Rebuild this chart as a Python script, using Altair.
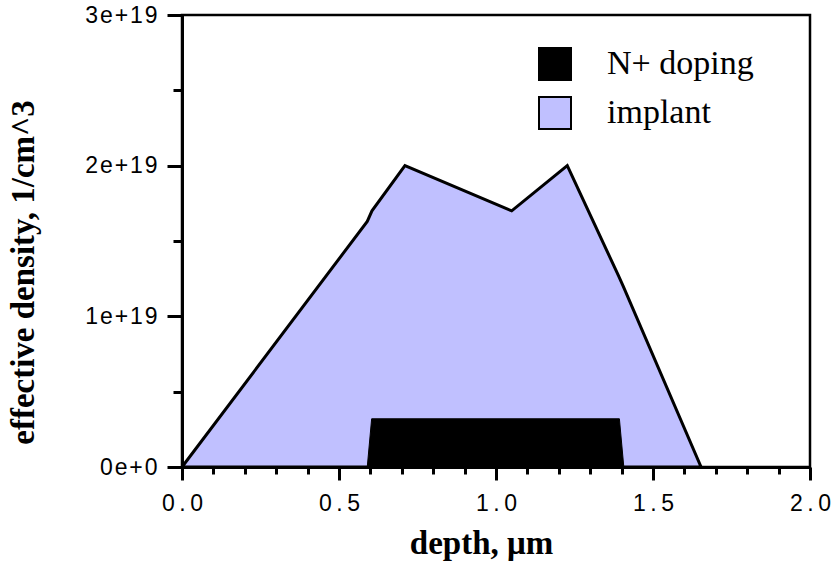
import altair as alt
import pandas as pd

# Implanted profile (depth in µm, density in 1/cm^3)
implant_depth = [0.0, 0.59, 0.605, 0.71, 1.05, 1.227, 1.39, 1.405, 1.653]
implant_density = [0.0, 1.63e19, 1.70e19, 2.0e19, 1.70e19, 2.0e19, 1.27e19, 1.20e19, 0.0]

# N+ doped region
doping_depth = [0.59, 0.604, 1.393, 1.407]
doping_density = [0.0, 0.32e19, 0.32e19, 0.0]

series_names = ["N+ doping", "implant"]
series_colors = ["#000000", "#c0c0ff"]

x_major = [0.0, 0.5, 1.0, 1.5, 2.0]
x_minor = [0.1, 0.2, 0.3, 0.4, 0.6, 0.7, 0.8, 0.9,
           1.1, 1.2, 1.3, 1.4, 1.6, 1.7, 1.8, 1.9]
y_major = [0.0, 1e19, 2e19, 3e19]
y_minor = [0.5e19, 1.5e19, 2.5e19]

implant_df = pd.DataFrame({"depth": implant_depth, "density": implant_density,
                           "series": "implant"})
doping_df = pd.DataFrame({"depth": doping_depth, "density": doping_density,
                          "series": "N+ doping"})

x_scale = alt.Scale(domain=[0, 2], nice=False, zero=False)
y_scale = alt.Scale(domain=[0, 3e19], nice=False)

# tick labels are drawn slightly tracked out
x_label_expr = "join(split(format(datum.value, '.1f'), ''), '\u2009')"
y_label_expr = "join(split(format(datum.value, '.0e'), ''), '\u200a')"

x_axis_major = alt.Axis(
    values=x_major, orient="bottom", grid=False,
    domainColor="black", domainWidth=3,
    tickColor="black", tickWidth=3, tickSize=13,
    labelFont="Liberation Sans", labelFontSize=23, labelColor="black",
    labelPadding=12, labelFlush=False, labelOverlap=False,
    labelExpr=x_label_expr,
    title="depth, μm", titleFont="Liberation Serif", titleFontSize=33,
    titleFontWeight="bold", titleColor="black",
    titleX=299, titleY=86, titleBaseline="alphabetic", titleAlign="center",
)
x_axis_minor = alt.Axis(
    values=x_minor, orient="bottom", grid=False, domain=False, labels=False,
    tickColor="black", tickWidth=3, tickSize=7, title=None,
)
y_axis_major = alt.Axis(
    values=y_major, orient="left", grid=False,
    domainColor="black", domainWidth=3,
    tickColor="black", tickWidth=3, tickSize=15,
    labelFont="Liberation Sans", labelFontSize=23, labelColor="black",
    labelPadding=10, labelFlush=False, labelOverlap=False,
    labelExpr=y_label_expr,
    title="effective density, 1/cm^3", titleFont="Liberation Serif",
    titleFontSize=33, titleFontWeight="bold", titleColor="black",
    titleAngle=270, titleX=-149, titleY=257,
    titleBaseline="alphabetic", titleAlign="center",
)
y_axis_minor = alt.Axis(
    values=y_minor, orient="left", grid=False, domain=False, labels=False,
    tickColor="black", tickWidth=3, tickSize=9, title=None,
)

legend = alt.Legend(
    title=None, orient="none", legendX=356, legendY=32, padding=0,
    symbolType="square", symbolSize=1024, symbolStrokeColor="black",
    symbolStrokeWidth=2, symbolOpacity=1,
    labelFont="Liberation Serif", labelFontSize=34, labelColor="black",
    labelOffset=35, rowPadding=9, labelLimit=0,
)

implant = alt.Chart(implant_df).mark_area(
    stroke="black", strokeWidth=3, opacity=1
).encode(
    x=alt.X("depth:Q", scale=x_scale, axis=x_axis_major),
    y=alt.Y("density:Q", scale=y_scale, axis=y_axis_major),
    color=alt.Color("series:N",
                    scale=alt.Scale(domain=series_names, range=series_colors),
                    legend=legend),
)

doping = alt.Chart(doping_df).mark_area(
    color="black", stroke="black", strokeWidth=1, opacity=1
).encode(
    x=alt.X("depth:Q", scale=x_scale, axis=x_axis_minor),
    y=alt.Y("density:Q", scale=y_scale, axis=y_axis_minor),
)

chart = alt.layer(implant, doping).resolve_axis(
    x="independent", y="independent"
).properties(
    width=628, height=452,
    autosize=alt.AutoSizeParams(type="none"),
    padding={"left": 182, "top": 15, "right": 25, "bottom": 113},
    background="white",
).configure_view(stroke="black", strokeWidth=2.5)

chart.save("out.html", embed_options={"renderer": "svg", "actions": False})
